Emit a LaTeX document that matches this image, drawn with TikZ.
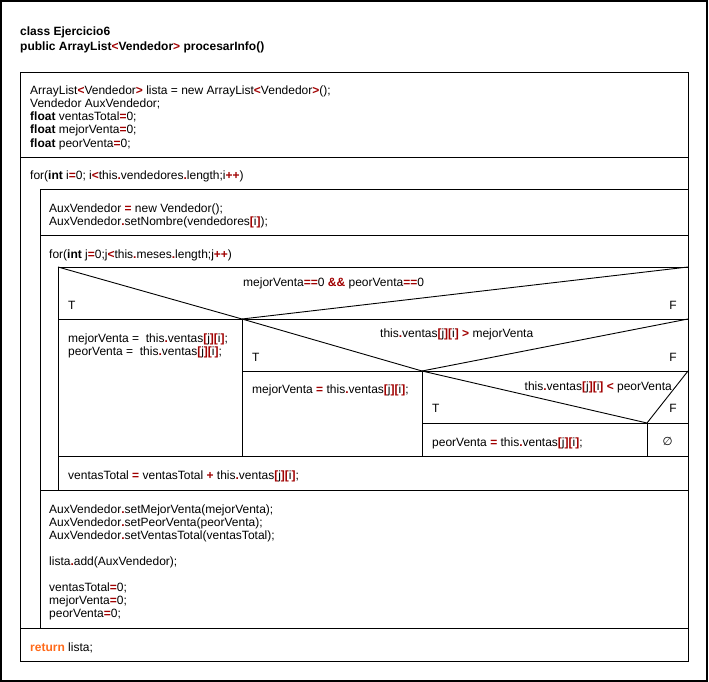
\documentclass[tikz,border=0pt]{standalone}
\usepackage{fontspec}
\setmainfont{Liberation Sans}
\newfontfamily\symfont{DejaVu Sans}
\definecolor{opred}{HTML}{A00000}
\definecolor{retor}{HTML}{FF6A1A}
\newcommand\op[1]{{\color{opred}\bfseries #1}}
\newcommand\kw[1]{{\bfseries #1}}
\newcommand\rt[1]{{\color{retor}\bfseries #1}}
\begin{document}
\begin{tikzpicture}[x=1pt,y=-1pt,
  txt/.style={anchor=base west,inner sep=0pt,font=\fontsize{12}{13}\selectfont},
  txtr/.style={anchor=base east,inner sep=0pt,font=\fontsize{12}{13}\selectfont},
  frame/.style={draw=black,line width=0.9pt},
  outer/.style={draw=black,line width=1.8pt}]
\useasboundingbox (0,0) rectangle (709,682);
% outer frame
\draw[outer] (1,1) rectangle (707,681);
% main box
\draw[frame] (20,72) rectangle (688,661);
\draw[frame] (20,157) -- (688,157);
% for i
\draw[frame] (40,189) -- (688,189);
\draw[frame] (40,189) -- (40,628);
\draw[frame] (20,628) -- (688,628);
\draw[frame] (40,235) -- (688,235);
% for j
\draw[frame] (58,267) -- (688,267);
\draw[frame] (58,267) -- (58,490);
\draw[frame] (40,490) -- (688,490);
% if 1
\draw[frame] (58,267) -- (242,319) -- (688,267);
\draw[frame] (58,319) -- (688,319);
\draw[frame] (242,319) -- (242,456);
% if 2
\draw[frame] (242,319) -- (422,371) -- (688,319);
\draw[frame] (242,371) -- (688,371);
\draw[frame] (422,371) -- (422,456);
% if 3
\draw[frame] (422,371) -- (647,423) -- (688,371);
\draw[frame] (422,423) -- (688,423);
\draw[frame] (647,423) -- (647,456);
\draw[frame] (58,456) -- (688,456);

% header
\node[txt] (h1) at (20,36) {\bfseries class Ejercicio6};
\node[txt] (h2) at (20,51) {\bfseries public ArrayList{\color{opred}<}Vendedor{\color{opred}>} procesarInfo()};
% declarations
\node[txt] (d1) at (30,95) {ArrayList\op{<}Vendedor\op{>} lista = new ArrayList\op{<}Vendedor\op{>}();};
\node[txt] (d2) at (30,108) {Vendedor AuxVendedor;};
\node[txt] (d3) at (30,121) {\kw{float} ventasTotal\op{=}0;};
\node[txt] (d4) at (30,134) {\kw{float} mejorVenta\op{=}0;};
\node[txt] (d5) at (30,147) {\kw{float} peorVenta\op{=}0;};
% for i
\node[txt] (fi) at (30,179) {for(\kw{int} i\op{=}0; i\op{<}this\op{.}vendedores\op{.}length;i\op{++})};
\node[txt] (a1) at (49,212) {AuxVendedor \op{=} new Vendedor();};
\node[txt] (a2) at (49,225) {AuxVendedor\op{.}setNombre(vendedores\op{[}i\op{]});};
% for j
\node[txt] (fj) at (49,258) {for(\kw{int} j\op{=}0;j\op{<}this\op{.}meses\op{.}length;j\op{++})};
% if 1
\node[txt] (c1) at (243,286) {mejorVenta\op{==}0 \op{\&\&} peorVenta\op{==}0};
\node[txt] (t1) at (68,309) {T};
\node[txtr] (f1) at (677,309) {F};
\node[txt] (l1) at (68,342) {mejorVenta =\ \ this\op{.}ventas\op{[}j\op{][}i\op{]};};
\node[txt] (l2) at (68,355) {peorVenta =\ \ this\op{.}ventas\op{[}j\op{][}i\op{]};};
% if 2
\node[txt] (c2) at (380,337) {this\op{.}ventas\op{[}j\op{][}i\op{]} \op{>} mejorVenta};
\node[txt] (t2) at (252,361) {T};
\node[txtr] (f2) at (677,361) {F};
\node[txt] (m1) at (252,393) {mejorVenta \op{=} this\op{.}ventas\op{[}j\op{][}i\op{]};};
% if 3
\node[txtr] (c3) at (672,390) {this\op{.}ventas\op{[}j\op{][}i\op{]} \op{<} peorVenta};
\node[txt] (t3) at (432,412) {T};
\node[txtr] (f3) at (677,412) {F};
\node[txt] (p1) at (432,446) {peorVenta \op{=} this\op{.}ventas\op{[}j\op{][}i\op{]};};
\node[anchor=base,inner sep=0pt,font=\symfont\fontsize{11.5}{13}\selectfont] (e1) at (667.5,445) {∅};
% after if
\node[txt] (s1) at (68,479) {ventasTotal \op{=} ventasTotal \op{+} this\op{.}ventas\op{[}j\op{][}i\op{]};};
% after for j
\node[txt] (b1) at (49,513) {AuxVendedor\op{.}setMejorVenta(mejorVenta);};
\node[txt] (b2) at (49,526) {AuxVendedor\op{.}setPeorVenta(peorVenta);};
\node[txt] (b3) at (49,539) {AuxVendedor\op{.}setVentasTotal(ventasTotal);};
\node[txt] (b4) at (49,565) {lista\op{.}add(AuxVendedor);};
\node[txt] (b5) at (49,591) {ventasTotal\op{=}0;};
\node[txt] (b6) at (49,604) {mejorVenta\op{=}0;};
\node[txt] (b7) at (49,617) {peorVenta\op{=}0;};
% return
\node[txt] (r1) at (30,651) {\rt{return} lista;};
\end{tikzpicture}
\end{document}
